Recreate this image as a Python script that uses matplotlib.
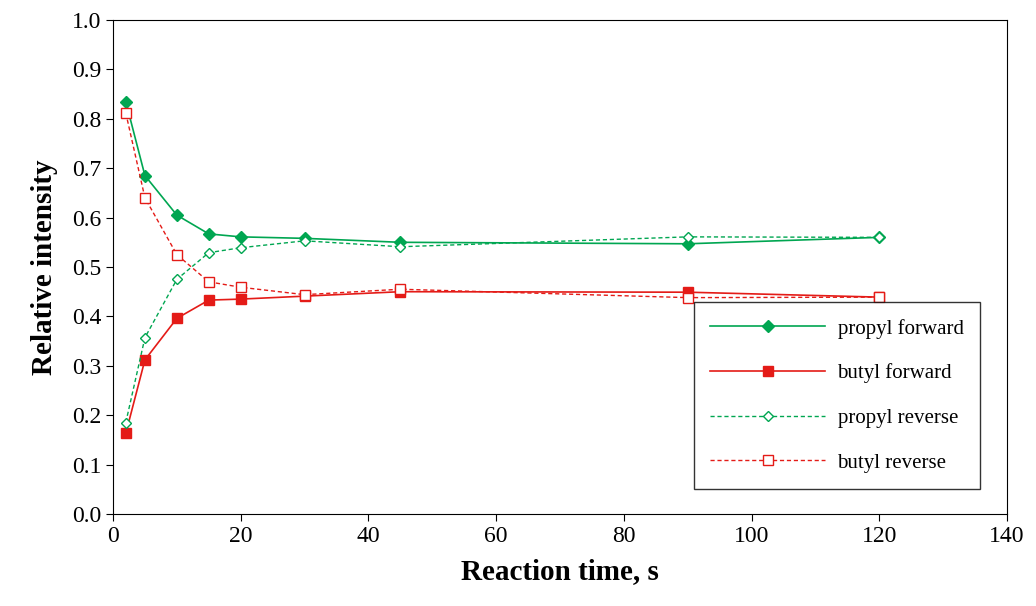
import matplotlib
matplotlib.use("Agg")
import matplotlib.pyplot as plt

plt.rcParams['font.family'] = ['Liberation Serif', 'DejaVu Serif']

times = [2, 5, 10, 15, 20, 30, 45, 90, 120]
propyl_fwd = [0.835, 0.685, 0.605, 0.567, 0.561, 0.558, 0.550, 0.547, 0.560]
butyl_fwd = [0.163, 0.312, 0.396, 0.433, 0.435, 0.441, 0.450, 0.449, 0.439]
propyl_rev = [0.185, 0.357, 0.475, 0.529, 0.539, 0.553, 0.541, 0.561, 0.560]
butyl_rev = [0.812, 0.640, 0.525, 0.470, 0.459, 0.444, 0.455, 0.438, 0.439]

green = '#00a651'
red = '#e41b17'

fig = plt.figure(figsize=(10.36, 6.06), dpi=100)
ax = fig.add_axes([113 / 1036, 92 / 606, 894 / 1036, 494 / 606])

ax.plot(times, propyl_fwd, '-', color=green, marker='D', ms=6, lw=1.2, label='propyl forward')
ax.plot(times, butyl_fwd, '-', color=red, marker='s', ms=7, lw=1.2, label='butyl forward')
ax.plot(times, propyl_rev, '--', color=green, marker='D', ms=5, mfc='white', lw=1, dashes=(3, 2), label='propyl reverse')
ax.plot(times, butyl_rev, '--', color=red, marker='s', ms=7, mfc='white', lw=1, dashes=(3, 2), label='butyl reverse')

ax.set_xlim(0, 140)
ax.set_ylim(0, 1.0)
ax.set_xticks(range(0, 141, 20))
ax.set_yticks([i / 10 for i in range(11)])
ax.set_yticklabels([f'{i / 10:.1f}' for i in range(11)])
ax.tick_params(labelsize=17, direction='out', length=5)
ax.set_xlabel('Reaction time, s', fontsize=21, fontweight='bold', labelpad=8)
ax.set_ylabel('Relative intensity', fontsize=21, fontweight='bold', labelpad=10)

leg = ax.legend(loc='lower right', bbox_to_anchor=(0.97, 0.05), fontsize=15, frameon=True,
                fancybox=False, edgecolor='black', borderpad=0.8, labelspacing=1.2,
                handlelength=5.5, handletextpad=0.6, borderaxespad=0)
leg.get_frame().set_linewidth(1)

fig.savefig('out.png', dpi=100)
